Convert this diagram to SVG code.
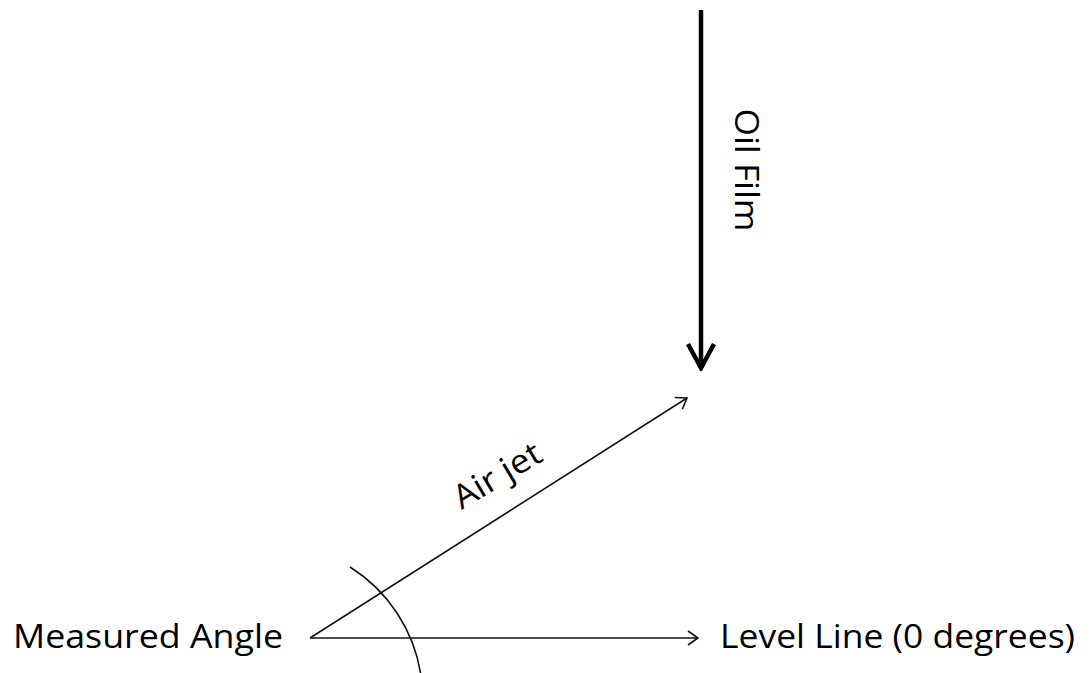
<svg xmlns="http://www.w3.org/2000/svg" width="1091" height="673" viewBox="0 0 1091 673">
<defs>
<style>
.lbl{font-family:"Open Sans","Liberation Sans",sans-serif;font-size:33px;fill:#000}
.thin{stroke:#111;stroke-width:1.6;fill:none}
.thick{stroke:#000;stroke-width:4.5;fill:none}
</style>
<marker id="openThin" viewBox="0 0 12 16" refX="11" refY="8" markerWidth="12" markerHeight="16" markerUnits="userSpaceOnUse" orient="auto">
<path d="M1,1 L11,8 L1,15" fill="none" stroke="#111" stroke-width="1.6"/>
</marker>
<marker id="openThick" viewBox="0 0 30 30" refX="27" refY="15" markerWidth="30" markerHeight="30" markerUnits="userSpaceOnUse" orient="auto">
<path d="M3,2 L27,15 L3,28" fill="none" stroke="#000" stroke-width="4.5"/>
</marker>
</defs>
<rect width="1091" height="673" fill="#fff"/>
<g id="connectors">
<line class="thick" x1="701" y1="10" x2="701" y2="368" marker-end="url(#openThick)"/>
<line class="thin" x1="310" y1="638" x2="687" y2="398" marker-end="url(#openThin)"/>
<line class="thin" x1="310" y1="638" x2="698" y2="638" marker-end="url(#openThin)"/>
<path class="thin" d="M350,567 A155,155 0 0 1 421,676"/>
</g>
<g id="oil-film"><text class="lbl" transform="translate(735,170) rotate(90)" text-anchor="middle" textLength="123" lengthAdjust="spacingAndGlyphs">Oil Film</text></g>
<g id="air-jet"><text class="lbl" transform="translate(503,485) rotate(-31)" text-anchor="middle" font-size="34" textLength="97" lengthAdjust="spacingAndGlyphs">Air jet</text></g>
<g id="measured-angle"><text class="lbl" x="13" y="648" textLength="270" lengthAdjust="spacingAndGlyphs">Measured Angle</text></g>
<g id="level-line"><text class="lbl" x="720" y="648" textLength="355" lengthAdjust="spacingAndGlyphs">Level Line (0 degrees)</text></g>
</svg>
